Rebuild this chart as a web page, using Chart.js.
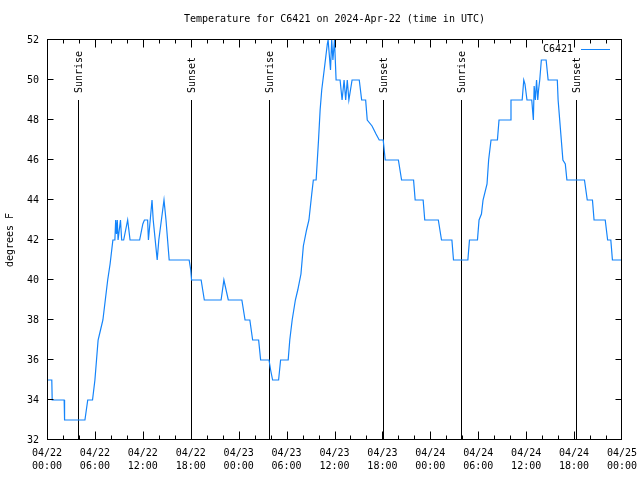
<!DOCTYPE html>
<html>
<head>
<meta charset="utf-8">
<script src="https://cdn.jsdelivr.net/npm/chart.js@4.4.1/dist/chart.umd.min.js"></script>
<style>
  html, body { margin: 0; padding: 0; background: #fff; }
  #wrap { width: 640px; height: 480px; }
</style>
</head>
<body>
<div id="wrap"><canvas id="chart" width="640" height="480"></canvas></div>
<script>
'use strict'

// hours since 2024-04-22 00:00 UTC
const hours = [
  0, 0.6, 0.65, 2.15, 2.2, 4.75, 5.1, 5.7, 6.0, 6.2, 6.4, 6.7, 7.0, 7.3, 7.6, 7.9, 8.25,
  8.5, 8.6, 8.7, 8.8, 8.9, 9.2, 9.35, 9.6, 10.1, 10.4, 11.6, 12.0, 12.2, 12.6, 12.7,
  13.15, 13.3, 13.8, 14.0, 14.65, 14.9, 15.3, 17.8, 18.0, 18.1, 19.3, 19.7, 21.8, 22.15,
  22.7, 24.4, 24.8, 25.4, 25.75, 26.5, 26.75, 27.8, 28.0, 28.25, 29.0, 29.25, 30.2, 30.4,
  30.7, 31.1, 31.4, 31.8, 32.1, 32.5, 32.8, 33.15, 33.35, 33.7, 33.85, 34.0, 34.2, 34.4,
  34.8, 35.1, 35.2, 35.4, 35.5, 35.65, 35.8, 36.0, 36.2, 36.7, 36.95, 37.2, 37.4, 37.6,
  37.8, 38.2, 39.1, 39.4, 39.9, 40.1, 40.7, 41.2, 41.6, 42.1, 42.35, 44.0, 44.4, 45.9,
  46.1, 47.1, 47.3, 49.0, 49.4, 50.7, 50.9, 52.7, 52.9, 53.9, 54.1, 54.4, 54.6, 55.1,
  55.3, 55.6, 56.4, 56.6, 58.0, 58.1, 59.5, 59.7, 59.85, 60.1, 60.7, 60.9, 61.0, 61.15,
  61.3, 61.45, 61.55, 61.7, 61.9, 62.5, 62.75, 63.9, 64.0, 64.2, 64.4, 64.6, 64.9, 65.1,
  67.3, 67.65, 68.3, 68.5, 69.9, 70.2, 70.6, 70.8, 72
]
const temps = [
  35, 35, 34, 34, 33, 33, 34, 34, 35, 36, 37, 37.5, 38, 39, 40, 40.8, 42,
  42, 43, 42.3, 43, 42, 43, 42, 42, 43, 42, 42, 42.8, 43, 43, 42,
  44, 43, 41, 42, 44, 43, 41, 41, 40.5, 40, 40, 39, 39, 40,
  39, 39, 38, 38, 37, 37, 36, 36, 35.5, 35, 35, 36, 36, 37,
  38, 39, 39.5, 40.3, 41.7, 42.5, 43, 44.3, 45, 45, 46, 47, 48.5, 49.5,
  50.8, 51.8, 52, 51, 50.5, 52, 51, 52, 50, 50, 49, 50, 49, 50,
  49, 50, 50, 49, 49, 48, 47.7, 47.3, 47, 47, 46, 46, 45, 45,
  44, 44, 43, 43, 42, 42, 41, 41, 42, 42, 43, 43.3, 44, 44.8,
  46, 47, 47, 48, 48, 49, 49, 50, 49.8, 49, 49, 48, 49.7, 49,
  50, 49, 49.5, 50, 51, 51, 50, 50, 49, 48, 47, 46, 45.8, 45,
  45, 44, 44, 43, 43, 42, 42, 41, 41
]

const eventHours = [3.87, 18.0, 27.83, 42.1, 51.8, 66.2]
const eventLabels = ['Sunrise', 'Sunset', 'Sunrise', 'Sunset', 'Sunrise', 'Sunset']
const eventTop = 49

const tickDates = ['04/22', '04/22', '04/22', '04/22', '04/23', '04/23', '04/23',
  '04/23', '04/24', '04/24', '04/24', '04/24', '04/25']
const tickTimes = ['00:00', '06:00', '12:00', '18:00', '00:00', '06:00', '12:00',
  '18:00', '00:00', '06:00', '12:00', '18:00', '00:00']

const titleText = 'Temperature for C6421 on 2024-Apr-22 (time in UTC)'

const FONT = 'DejaVu Sans Mono'
const LINE_COLOR = 'rgb(20,132,250)'

const points = hours.map(function (h, i) {
  return { x: h, y: temps[i] }
})

// gnuplot-ish frame, inward ticks, sunrise/sunset markers, title and legend
const gnuplotLook = {
  id: 'gnuplotLook',
  beforeDatasetsDraw (chart) {
    const ctx = chart.ctx
    const a = chart.chartArea
    const x = chart.scales.x
    const y = chart.scales.y
    ctx.save()
    ctx.strokeStyle = '#000'
    ctx.lineWidth = 1
    ctx.fillStyle = '#000'
    ctx.font = '10px "' + FONT + '"'

    ctx.textAlign = 'center'
    ctx.textBaseline = 'middle'
    ctx.fillText(titleText, (a.left + a.right) / 2, 19)

    eventHours.forEach(function (h, i) {
      const px = Math.round(x.getPixelForValue(h)) + 0.5
      const top = Math.round(y.getPixelForValue(eventTop))
      ctx.beginPath()
      ctx.moveTo(px, top)
      ctx.lineTo(px, y.getPixelForValue(32))
      ctx.stroke()
      ctx.save()
      ctx.translate(px + 1, top - 7)
      ctx.rotate(-Math.PI / 2)
      ctx.textAlign = 'left'
      ctx.textBaseline = 'middle'
      ctx.fillText(eventLabels[i], 0, 0)
      ctx.restore()
    })
    ctx.restore()
  },
  afterDatasetsDraw (chart) {
    const ctx = chart.ctx
    const a = chart.chartArea
    const x = chart.scales.x
    const y = chart.scales.y
    const L = Math.round(a.left) + 0.5
    const R = Math.round(a.right) - 0.5
    const T = Math.round(a.top) - 0.5
    const B = Math.round(a.bottom) - 0.5
    ctx.save()
    ctx.strokeStyle = '#000'
    ctx.lineWidth = 1
    ctx.strokeRect(L, T, R - L, B - T)
    ctx.beginPath()
    for (let h = 0; h <= 72; h += 2) {
      const px = Math.min(R, Math.max(L, Math.round(x.getPixelForValue(h)) + 0.5))
      const len = h % 6 === 0 ? 8 : 4
      ctx.moveTo(px, B)
      ctx.lineTo(px, B - len)
      ctx.moveTo(px, T)
      ctx.lineTo(px, T + len)
    }
    for (let v = 32; v <= 52; v += 2) {
      const py = Math.min(B, Math.max(T, Math.round(y.getPixelForValue(v)) - 0.5))
      ctx.moveTo(L, py)
      ctx.lineTo(L + 6, py)
      ctx.moveTo(R, py)
      ctx.lineTo(R - 6, py)
    }
    ctx.stroke()

    // legend
    ctx.font = '10px "' + FONT + '"'
    ctx.fillStyle = '#000'
    ctx.textAlign = 'right'
    ctx.textBaseline = 'middle'
    ctx.fillText(chart.data.datasets[0].label, 573, 49)
    ctx.strokeStyle = LINE_COLOR
    ctx.beginPath()
    ctx.moveTo(581, 49.5)
    ctx.lineTo(610, 49.5)
    ctx.stroke()
    ctx.restore()
  }
}

const ctx = document.getElementById('chart')
const myChart = new Chart(ctx, {
  type: 'line',
  data: {
    datasets: [{
      label: 'C6421',
      data: points,
      borderColor: LINE_COLOR,
      borderWidth: 1.2,
      pointRadius: 0,
      tension: 0,
      fill: false
    }]
  },
  options: {
    responsive: false,
    animation: false,
    devicePixelRatio: 1,
    layout: { padding: { left: 0, right: 18, top: 40, bottom: 0 } },
    plugins: {
      legend: { display: false },
      tooltip: { enabled: false },
      title: { display: false }
    },
    scales: {
      x: {
        type: 'linear',
        min: 0,
        max: 72,
        grid: { display: false, drawTicks: false },
        border: { display: false },
        afterFit: function (scale) {
          scale.height = 40
          scale.paddingLeft = 0
          scale.paddingRight = 0
        },
        ticks: {
          stepSize: 6,
          autoSkip: false,
          maxRotation: 0,
          padding: 7,
          color: '#000',
          font: { family: FONT, size: 10, lineHeight: 1.27 },
          callback: function (value) {
            const i = Math.round(value / 6)
            return [tickDates[i], tickTimes[i]]
          }
        }
      },
      y: {
        min: 32,
        max: 52,
        grid: { display: false, drawTicks: false },
        border: { display: false },
        afterFit: function (scale) { scale.width = 47 },
        title: {
          display: true,
          text: 'degrees F',
          color: '#000',
          font: { family: FONT, size: 10, lineHeight: 1.2 },
          padding: { top: 4, bottom: 0 }
        },
        ticks: {
          stepSize: 2,
          padding: 8,
          color: '#000',
          font: { family: FONT, size: 10 }
        }
      }
    }
  },
  plugins: [gnuplotLook]
})
</script>
</body>
</html>
